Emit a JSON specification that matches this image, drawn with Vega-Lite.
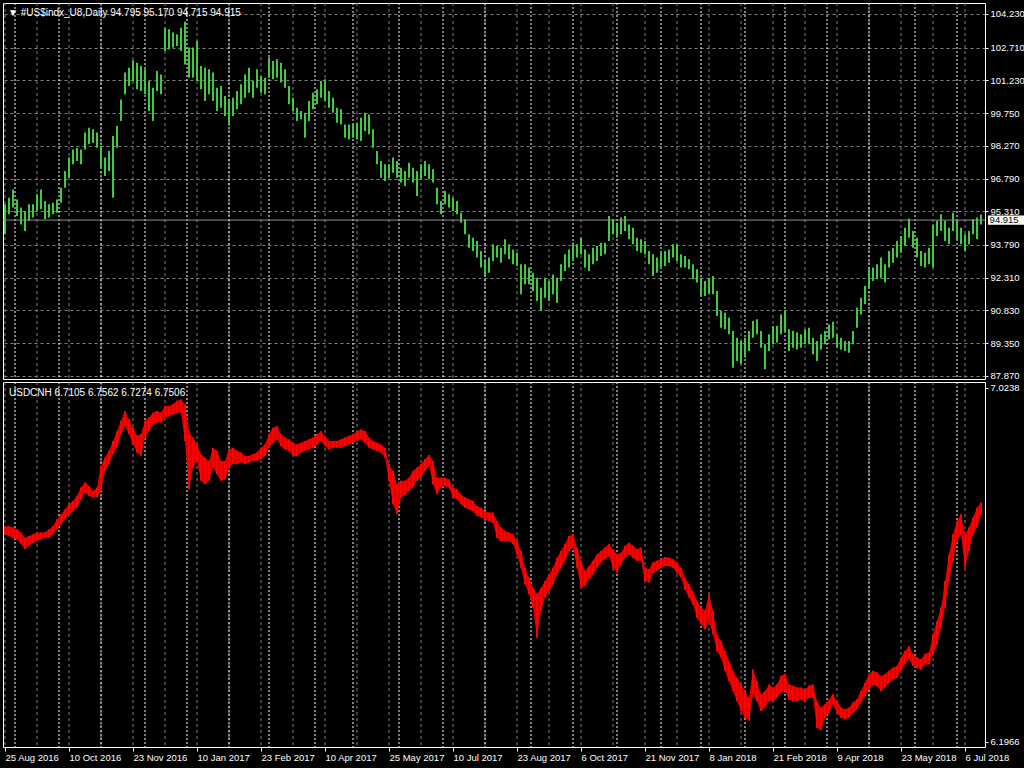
{
"$schema":"https://vega.github.io/schema/vega-lite/v6.json",
"background":"#000000",
"padding":{"left":2,"top":2,"right":0,"bottom":6},
"autosize":{"type":"pad"},
"bounds":"flush",
"spacing":3,
"config":{"view":{"stroke":"#ffffff","strokeWidth":1,"fill":"#000000"},"font":"Liberation Sans","axis":{"labelFont":"Liberation Sans","labelFontSize":9.5,"labelColor":"#ffffff","tickColor":"#ffffff","domain":false,"labelOverlap":false,"labelBound":false,"labelFlush":false}},
"datasets":{
"grid":[{"n":0},{"n":16},{"n":32},{"n":48},{"n":64},{"n":80},{"n":96},{"n":112},{"n":128},{"n":144},{"n":160},{"n":176},{"n":192},{"n":208},{"n":224},{"n":240},{"n":256},{"n":272},{"n":288},{"n":304},{"n":320},{"n":336},{"n":352},{"n":368},{"n":384},{"n":400},{"n":416},{"n":432},{"n":448},{"n":464},{"n":480}],
"sep":[{"n":5},{"n":27},{"n":48},{"n":70},{"n":91},{"n":112},{"n":132},{"n":155},{"n":174},{"n":197},{"n":219},{"n":240},{"n":263},{"n":284},{"n":306},{"n":328},{"n":348},{"n":370},{"n":390},{"n":411},{"n":432},{"n":455},{"n":476}],
"bars":[
{"n":0,"dh":95.63,"dl":94.27,"ch":6.701,"cl":6.682},
{"n":2,"dh":95.93,"dl":95.18,"ch":6.701,"cl":6.678},
{"n":4,"dh":96.30,"dl":95.48,"ch":6.698,"cl":6.674},
{"n":6,"dh":95.85,"dl":95.10,"ch":6.694,"cl":6.670},
{"n":8,"dh":95.48,"dl":94.72,"ch":6.686,"cl":6.659},
{"n":10,"dh":95.33,"dl":94.42,"ch":6.674,"cl":6.647},
{"n":12,"dh":95.63,"dl":94.88,"ch":6.678,"cl":6.655},
{"n":14,"dh":95.63,"dl":95.03,"ch":6.682,"cl":6.662},
{"n":16,"dh":96.08,"dl":95.33,"ch":6.686,"cl":6.666},
{"n":18,"dh":96.30,"dl":95.40,"ch":6.686,"cl":6.670},
{"n":20,"dh":95.78,"dl":94.95,"ch":6.686,"cl":6.674},
{"n":22,"dh":95.63,"dl":95.03,"ch":6.694,"cl":6.674},
{"n":24,"dh":95.70,"dl":95.18,"ch":6.701,"cl":6.682},
{"n":26,"dh":95.85,"dl":95.25,"ch":6.717,"cl":6.694},
{"n":28,"dh":96.38,"dl":95.70,"ch":6.729,"cl":6.705},
{"n":30,"dh":97.13,"dl":96.38,"ch":6.740,"cl":6.717},
{"n":32,"dh":97.74,"dl":96.83,"ch":6.752,"cl":6.729},
{"n":34,"dh":98.11,"dl":97.44,"ch":6.760,"cl":6.736},
{"n":36,"dh":98.19,"dl":97.59,"ch":6.772,"cl":6.744},
{"n":38,"dh":98.11,"dl":97.44,"ch":6.791,"cl":6.764},
{"n":40,"dh":98.87,"dl":98.11,"ch":6.803,"cl":6.779},
{"n":42,"dh":99.09,"dl":98.34,"ch":6.795,"cl":6.772},
{"n":44,"dh":99.02,"dl":98.41,"ch":6.783,"cl":6.768},
{"n":46,"dh":98.87,"dl":98.19,"ch":6.791,"cl":6.768},
{"n":48,"dh":98.26,"dl":97.28,"ch":6.842,"cl":6.783},
{"n":50,"dh":97.74,"dl":96.91,"ch":6.861,"cl":6.830},
{"n":52,"dh":98.04,"dl":97.13,"ch":6.877,"cl":6.846},
{"n":54,"dh":98.72,"dl":95.93,"ch":6.900,"cl":6.869},
{"n":56,"dh":99.17,"dl":98.19,"ch":6.923,"cl":6.884},
{"n":58,"dh":100.37,"dl":99.39,"ch":6.947,"cl":6.916},
{"n":60,"dh":101.58,"dl":100.60,"ch":6.970,"cl":6.935},
{"n":62,"dh":101.80,"dl":100.98,"ch":6.951,"cl":6.916},
{"n":64,"dh":102.14,"dl":101.20,"ch":6.931,"cl":6.892},
{"n":66,"dh":102.03,"dl":100.83,"ch":6.912,"cl":6.873},
{"n":68,"dh":101.88,"dl":100.75,"ch":6.916,"cl":6.865},
{"n":70,"dh":101.73,"dl":100.60,"ch":6.947,"cl":6.908},
{"n":72,"dh":101.20,"dl":99.85,"ch":6.955,"cl":6.923},
{"n":74,"dh":100.90,"dl":99.39,"ch":6.966,"cl":6.939},
{"n":76,"dh":101.65,"dl":100.75,"ch":6.970,"cl":6.943},
{"n":78,"dh":101.50,"dl":100.60,"ch":6.966,"cl":6.943},
{"n":80,"dh":103.61,"dl":102.56,"ch":6.982,"cl":6.955},
{"n":82,"dh":103.54,"dl":102.63,"ch":6.982,"cl":6.958},
{"n":84,"dh":103.39,"dl":102.71,"ch":6.986,"cl":6.962},
{"n":86,"dh":103.31,"dl":102.78,"ch":6.994,"cl":6.966},
{"n":88,"dh":103.61,"dl":102.56,"ch":6.997,"cl":6.966},
{"n":90,"dh":103.88,"dl":101.95,"ch":6.986,"cl":6.900},
{"n":92,"dh":102.71,"dl":101.35,"ch":6.923,"cl":6.787},
{"n":94,"dh":102.71,"dl":101.35,"ch":6.908,"cl":6.838},
{"n":96,"dh":103.01,"dl":101.20,"ch":6.892,"cl":6.853},
{"n":98,"dh":101.88,"dl":100.83,"ch":6.869,"cl":6.807},
{"n":100,"dh":101.80,"dl":100.30,"ch":6.861,"cl":6.799},
{"n":102,"dh":101.73,"dl":100.60,"ch":6.853,"cl":6.807},
{"n":104,"dh":101.58,"dl":100.30,"ch":6.884,"cl":6.838},
{"n":106,"dh":100.90,"dl":99.85,"ch":6.877,"cl":6.822},
{"n":108,"dh":100.98,"dl":99.99,"ch":6.853,"cl":6.807},
{"n":110,"dh":100.52,"dl":99.62,"ch":6.853,"cl":6.811},
{"n":112,"dh":100.30,"dl":99.24,"ch":6.880,"cl":6.838},
{"n":114,"dh":100.45,"dl":99.62,"ch":6.884,"cl":6.846},
{"n":116,"dh":100.75,"dl":99.92,"ch":6.877,"cl":6.846},
{"n":118,"dh":101.05,"dl":100.15,"ch":6.873,"cl":6.850},
{"n":120,"dh":101.50,"dl":100.45,"ch":6.865,"cl":6.846},
{"n":122,"dh":101.80,"dl":100.67,"ch":6.865,"cl":6.850},
{"n":124,"dh":101.20,"dl":100.45,"ch":6.869,"cl":6.853},
{"n":126,"dh":101.73,"dl":100.90,"ch":6.873,"cl":6.853},
{"n":128,"dh":101.43,"dl":100.67,"ch":6.884,"cl":6.857},
{"n":130,"dh":101.35,"dl":100.60,"ch":6.892,"cl":6.865},
{"n":132,"dh":102.26,"dl":101.35,"ch":6.916,"cl":6.884},
{"n":134,"dh":102.11,"dl":101.28,"ch":6.931,"cl":6.896},
{"n":136,"dh":102.18,"dl":101.35,"ch":6.935,"cl":6.904},
{"n":138,"dh":102.03,"dl":101.13,"ch":6.916,"cl":6.888},
{"n":140,"dh":101.73,"dl":100.90,"ch":6.908,"cl":6.880},
{"n":142,"dh":100.98,"dl":100.15,"ch":6.904,"cl":6.877},
{"n":144,"dh":100.45,"dl":99.85,"ch":6.896,"cl":6.865},
{"n":146,"dh":99.99,"dl":99.39,"ch":6.892,"cl":6.865},
{"n":148,"dh":99.85,"dl":99.47,"ch":6.896,"cl":6.873},
{"n":150,"dh":99.77,"dl":98.64,"ch":6.900,"cl":6.877},
{"n":152,"dh":100.30,"dl":99.39,"ch":6.904,"cl":6.880},
{"n":154,"dh":100.67,"dl":99.92,"ch":6.908,"cl":6.884},
{"n":156,"dh":100.83,"dl":100.15,"ch":6.916,"cl":6.892},
{"n":158,"dh":101.20,"dl":100.45,"ch":6.923,"cl":6.900},
{"n":160,"dh":101.28,"dl":100.30,"ch":6.912,"cl":6.888},
{"n":162,"dh":100.75,"dl":99.99,"ch":6.900,"cl":6.880},
{"n":164,"dh":100.45,"dl":99.77,"ch":6.900,"cl":6.884},
{"n":166,"dh":99.99,"dl":99.32,"ch":6.900,"cl":6.884},
{"n":168,"dh":99.92,"dl":99.24,"ch":6.904,"cl":6.884},
{"n":170,"dh":99.24,"dl":98.64,"ch":6.908,"cl":6.888},
{"n":172,"dh":99.24,"dl":98.56,"ch":6.912,"cl":6.892},
{"n":174,"dh":99.24,"dl":98.64,"ch":6.916,"cl":6.896},
{"n":176,"dh":99.32,"dl":98.56,"ch":6.923,"cl":6.900},
{"n":178,"dh":99.54,"dl":98.49,"ch":6.927,"cl":6.904},
{"n":180,"dh":99.77,"dl":98.94,"ch":6.923,"cl":6.896},
{"n":182,"dh":99.69,"dl":98.79,"ch":6.908,"cl":6.884},
{"n":184,"dh":99.02,"dl":98.19,"ch":6.900,"cl":6.880},
{"n":186,"dh":98.04,"dl":97.44,"ch":6.896,"cl":6.877},
{"n":188,"dh":97.59,"dl":96.83,"ch":6.892,"cl":6.873},
{"n":190,"dh":97.44,"dl":96.68,"ch":6.884,"cl":6.861},
{"n":192,"dh":97.44,"dl":96.83,"ch":6.846,"cl":6.807},
{"n":194,"dh":97.74,"dl":97.06,"ch":6.830,"cl":6.752},
{"n":196,"dh":97.59,"dl":96.83,"ch":6.799,"cl":6.729},
{"n":198,"dh":97.28,"dl":96.61,"ch":6.807,"cl":6.768},
{"n":200,"dh":97.13,"dl":96.46,"ch":6.807,"cl":6.775},
{"n":202,"dh":97.51,"dl":96.83,"ch":6.814,"cl":6.783},
{"n":204,"dh":97.28,"dl":96.61,"ch":6.830,"cl":6.791},
{"n":206,"dh":97.13,"dl":96.00,"ch":6.838,"cl":6.807},
{"n":208,"dh":97.44,"dl":96.76,"ch":6.846,"cl":6.814},
{"n":210,"dh":97.59,"dl":96.91,"ch":6.857,"cl":6.830},
{"n":212,"dh":97.44,"dl":96.76,"ch":6.867,"cl":6.842},
{"n":214,"dh":97.21,"dl":96.61,"ch":6.853,"cl":6.799},
{"n":216,"dh":96.38,"dl":95.63,"ch":6.814,"cl":6.775},
{"n":218,"dh":95.78,"dl":95.18,"ch":6.814,"cl":6.791},
{"n":220,"dh":96.23,"dl":95.63,"ch":6.814,"cl":6.795},
{"n":222,"dh":96.08,"dl":95.48,"ch":6.810,"cl":6.791},
{"n":224,"dh":95.93,"dl":95.33,"ch":6.791,"cl":6.768},
{"n":226,"dh":95.78,"dl":95.18,"ch":6.787,"cl":6.764},
{"n":228,"dh":95.25,"dl":94.80,"ch":6.775,"cl":6.752},
{"n":230,"dh":94.95,"dl":94.27,"ch":6.768,"cl":6.744},
{"n":232,"dh":94.27,"dl":93.67,"ch":6.764,"cl":6.740},
{"n":234,"dh":94.12,"dl":93.52,"ch":6.760,"cl":6.736},
{"n":236,"dh":93.97,"dl":93.22,"ch":6.748,"cl":6.725},
{"n":238,"dh":93.52,"dl":92.77,"ch":6.744,"cl":6.721},
{"n":240,"dh":93.07,"dl":92.39,"ch":6.736,"cl":6.717},
{"n":242,"dh":93.22,"dl":92.54,"ch":6.733,"cl":6.713},
{"n":244,"dh":93.82,"dl":93.07,"ch":6.733,"cl":6.709},
{"n":246,"dh":93.74,"dl":93.22,"ch":6.713,"cl":6.674},
{"n":248,"dh":93.67,"dl":92.99,"ch":6.698,"cl":6.666},
{"n":250,"dh":94.05,"dl":93.37,"ch":6.690,"cl":6.666},
{"n":252,"dh":93.82,"dl":93.14,"ch":6.686,"cl":6.666},
{"n":254,"dh":93.59,"dl":92.92,"ch":6.682,"cl":6.659},
{"n":256,"dh":93.44,"dl":92.84,"ch":6.666,"cl":6.635},
{"n":258,"dh":92.92,"dl":91.56,"ch":6.643,"cl":6.604},
{"n":260,"dh":92.92,"dl":92.01,"ch":6.604,"cl":6.565},
{"n":262,"dh":92.77,"dl":92.01,"ch":6.581,"cl":6.542},
{"n":264,"dh":92.54,"dl":91.71,"ch":6.557,"cl":6.511},
{"n":266,"dh":92.31,"dl":91.26,"ch":6.542,"cl":6.440},
{"n":268,"dh":91.86,"dl":90.81,"ch":6.557,"cl":6.503},
{"n":270,"dh":92.31,"dl":91.41,"ch":6.573,"cl":6.534},
{"n":272,"dh":92.16,"dl":91.26,"ch":6.588,"cl":6.549},
{"n":274,"dh":92.46,"dl":91.56,"ch":6.604,"cl":6.565},
{"n":276,"dh":92.31,"dl":91.18,"ch":6.627,"cl":6.588},
{"n":278,"dh":92.92,"dl":92.16,"ch":6.643,"cl":6.604},
{"n":280,"dh":93.37,"dl":92.61,"ch":6.659,"cl":6.620},
{"n":282,"dh":93.59,"dl":92.77,"ch":6.678,"cl":6.643},
{"n":284,"dh":93.89,"dl":93.07,"ch":6.682,"cl":6.651},
{"n":286,"dh":93.82,"dl":93.22,"ch":6.651,"cl":6.604},
{"n":288,"dh":94.12,"dl":93.37,"ch":6.620,"cl":6.557},
{"n":290,"dh":93.59,"dl":92.77,"ch":6.596,"cl":6.561},
{"n":292,"dh":93.37,"dl":92.61,"ch":6.608,"cl":6.577},
{"n":294,"dh":93.67,"dl":92.92,"ch":6.620,"cl":6.588},
{"n":296,"dh":93.74,"dl":93.07,"ch":6.635,"cl":6.604},
{"n":298,"dh":93.89,"dl":93.29,"ch":6.643,"cl":6.616},
{"n":300,"dh":93.89,"dl":93.37,"ch":6.651,"cl":6.624},
{"n":302,"dh":95.10,"dl":93.97,"ch":6.659,"cl":6.631},
{"n":304,"dh":94.95,"dl":94.27,"ch":6.647,"cl":6.604},
{"n":306,"dh":94.80,"dl":94.12,"ch":6.635,"cl":6.592},
{"n":308,"dh":95.03,"dl":94.27,"ch":6.639,"cl":6.612},
{"n":310,"dh":95.10,"dl":94.42,"ch":6.655,"cl":6.627},
{"n":312,"dh":94.72,"dl":94.05,"ch":6.662,"cl":6.635},
{"n":314,"dh":94.57,"dl":93.82,"ch":6.655,"cl":6.627},
{"n":316,"dh":94.12,"dl":93.52,"ch":6.647,"cl":6.620},
{"n":318,"dh":94.05,"dl":93.44,"ch":6.651,"cl":6.620},
{"n":320,"dh":93.97,"dl":93.37,"ch":6.604,"cl":6.573},
{"n":322,"dh":93.52,"dl":92.92,"ch":6.600,"cl":6.569},
{"n":324,"dh":93.37,"dl":92.39,"ch":6.616,"cl":6.592},
{"n":326,"dh":93.22,"dl":92.54,"ch":6.620,"cl":6.596},
{"n":328,"dh":93.44,"dl":92.77,"ch":6.624,"cl":6.604},
{"n":330,"dh":93.52,"dl":92.84,"ch":6.629,"cl":6.608},
{"n":332,"dh":93.59,"dl":92.99,"ch":6.627,"cl":6.608},
{"n":334,"dh":93.82,"dl":93.22,"ch":6.624,"cl":6.604},
{"n":336,"dh":93.82,"dl":93.07,"ch":6.616,"cl":6.592},
{"n":338,"dh":93.37,"dl":92.77,"ch":6.604,"cl":6.581},
{"n":340,"dh":93.29,"dl":92.77,"ch":6.581,"cl":6.553},
{"n":342,"dh":93.14,"dl":92.69,"ch":6.565,"cl":6.534},
{"n":344,"dh":92.92,"dl":92.24,"ch":6.549,"cl":6.518},
{"n":346,"dh":92.69,"dl":92.09,"ch":6.526,"cl":6.487},
{"n":348,"dh":92.31,"dl":91.48,"ch":6.511,"cl":6.472},
{"n":350,"dh":92.16,"dl":91.48,"ch":6.503,"cl":6.460},
{"n":352,"dh":92.31,"dl":91.56,"ch":6.542,"cl":6.479},
{"n":354,"dh":92.39,"dl":91.56,"ch":6.503,"cl":6.448},
{"n":356,"dh":91.71,"dl":90.58,"ch":6.448,"cl":6.409},
{"n":358,"dh":90.81,"dl":90.05,"ch":6.433,"cl":6.394},
{"n":360,"dh":90.73,"dl":89.98,"ch":6.409,"cl":6.363},
{"n":362,"dh":90.50,"dl":89.75,"ch":6.386,"cl":6.339},
{"n":364,"dh":89.90,"dl":88.24,"ch":6.363,"cl":6.316},
{"n":366,"dh":89.60,"dl":88.55,"ch":6.347,"cl":6.292},
{"n":368,"dh":89.45,"dl":88.40,"ch":6.331,"cl":6.269},
{"n":370,"dh":89.60,"dl":88.70,"ch":6.316,"cl":6.253},
{"n":372,"dh":89.90,"dl":89.00,"ch":6.300,"cl":6.246},
{"n":374,"dh":90.35,"dl":89.60,"ch":6.366,"cl":6.308},
{"n":376,"dh":90.43,"dl":89.75,"ch":6.339,"cl":6.292},
{"n":378,"dh":89.90,"dl":89.15,"ch":6.308,"cl":6.269},
{"n":380,"dh":89.30,"dl":88.17,"ch":6.316,"cl":6.277},
{"n":382,"dh":89.75,"dl":89.00,"ch":6.331,"cl":6.292},
{"n":384,"dh":90.13,"dl":89.30,"ch":6.324,"cl":6.292},
{"n":386,"dh":90.13,"dl":89.38,"ch":6.331,"cl":6.300},
{"n":388,"dh":90.65,"dl":89.75,"ch":6.351,"cl":6.312},
{"n":390,"dh":90.84,"dl":89.90,"ch":6.356,"cl":6.316},
{"n":392,"dh":89.98,"dl":89.00,"ch":6.331,"cl":6.296},
{"n":394,"dh":89.90,"dl":89.15,"ch":6.328,"cl":6.292},
{"n":396,"dh":89.83,"dl":89.07,"ch":6.324,"cl":6.292},
{"n":398,"dh":89.75,"dl":89.15,"ch":6.324,"cl":6.296},
{"n":400,"dh":89.98,"dl":89.30,"ch":6.320,"cl":6.292},
{"n":402,"dh":90.05,"dl":89.30,"ch":6.328,"cl":6.300},
{"n":404,"dh":89.60,"dl":88.85,"ch":6.331,"cl":6.300},
{"n":406,"dh":89.45,"dl":88.55,"ch":6.292,"cl":6.230},
{"n":408,"dh":89.75,"dl":89.07,"ch":6.277,"cl":6.224},
{"n":410,"dh":89.90,"dl":89.30,"ch":6.285,"cl":6.253},
{"n":412,"dh":90.20,"dl":89.52,"ch":6.296,"cl":6.265},
{"n":414,"dh":90.32,"dl":89.60,"ch":6.308,"cl":6.285},
{"n":416,"dh":89.75,"dl":89.15,"ch":6.292,"cl":6.265},
{"n":418,"dh":89.60,"dl":89.07,"ch":6.277,"cl":6.253},
{"n":420,"dh":89.45,"dl":89.00,"ch":6.273,"cl":6.250},
{"n":422,"dh":89.45,"dl":88.92,"ch":6.277,"cl":6.253},
{"n":424,"dh":89.90,"dl":89.30,"ch":6.289,"cl":6.265},
{"n":426,"dh":90.96,"dl":90.05,"ch":6.296,"cl":6.273},
{"n":428,"dh":91.41,"dl":90.65,"ch":6.316,"cl":6.289},
{"n":430,"dh":91.94,"dl":91.11,"ch":6.335,"cl":6.304},
{"n":432,"dh":92.69,"dl":91.86,"ch":6.355,"cl":6.320},
{"n":434,"dh":92.77,"dl":92.16,"ch":6.363,"cl":6.331},
{"n":436,"dh":92.92,"dl":92.24,"ch":6.359,"cl":6.327},
{"n":438,"dh":93.22,"dl":92.31,"ch":6.351,"cl":6.316},
{"n":440,"dh":92.92,"dl":92.09,"ch":6.355,"cl":6.324},
{"n":442,"dh":93.52,"dl":92.77,"ch":6.363,"cl":6.335},
{"n":444,"dh":93.67,"dl":92.99,"ch":6.370,"cl":6.343},
{"n":446,"dh":93.97,"dl":93.22,"ch":6.374,"cl":6.347},
{"n":448,"dh":94.20,"dl":93.44,"ch":6.394,"cl":6.363},
{"n":450,"dh":94.57,"dl":93.74,"ch":6.409,"cl":6.378},
{"n":452,"dh":94.99,"dl":94.12,"ch":6.421,"cl":6.390},
{"n":454,"dh":94.42,"dl":93.67,"ch":6.402,"cl":6.374},
{"n":456,"dh":94.12,"dl":93.22,"ch":6.394,"cl":6.370},
{"n":458,"dh":93.52,"dl":92.84,"ch":6.390,"cl":6.366},
{"n":460,"dh":93.44,"dl":92.77,"ch":6.402,"cl":6.378},
{"n":462,"dh":93.67,"dl":92.92,"ch":6.405,"cl":6.378},
{"n":464,"dh":94.72,"dl":92.77,"ch":6.448,"cl":6.401},
{"n":466,"dh":94.88,"dl":94.20,"ch":6.479,"cl":6.425},
{"n":468,"dh":95.18,"dl":94.42,"ch":6.511,"cl":6.464},
{"n":470,"dh":94.88,"dl":93.97,"ch":6.573,"cl":6.511},
{"n":472,"dh":94.57,"dl":93.82,"ch":6.635,"cl":6.573},
{"n":474,"dh":95.25,"dl":94.42,"ch":6.682,"cl":6.620},
{"n":476,"dh":94.88,"dl":94.05,"ch":6.713,"cl":6.666},
{"n":478,"dh":94.57,"dl":93.82,"ch":6.729,"cl":6.682},
{"n":480,"dh":94.27,"dl":93.52,"ch":6.682,"cl":6.604},
{"n":482,"dh":94.42,"dl":93.82,"ch":6.698,"cl":6.643},
{"n":484,"dh":94.95,"dl":94.27,"ch":6.721,"cl":6.682},
{"n":486,"dh":95.03,"dl":94.05,"ch":6.744,"cl":6.698},
{"n":488,"dh":95.17,"dl":94.72,"ch":6.756,"cl":6.727}
]},
"vconcat":[
{
"width":982,"height":376,
"title":{"text":"▼ #US$indx_U8,Daily  94.795 95.170 94.715 94.915","anchor":"start","frame":"group","orient":"top","offset":-5,"baseline":"top","dx":5,"dy":10,"color":"#ffffff","font":"Liberation Sans","fontSize":10,"fontWeight":"normal"},
"layer":[
{"data":{"name":"grid"},"mark":{"type":"rule","color":"#808080","strokeDash":[3,3],"strokeWidth":1},"encoding":{"x":{"field":"n","type":"quantitative","scale":{"domain":[-1,490],"nice":false,"zero":false},"axis":null}}},
{"data":{"name":"sep"},"mark":{"type":"rule","color":"#ffffff","strokeDash":[2,2],"strokeWidth":1},"encoding":{"x":{"field":"n","type":"quantitative","axis":null}}},
{"data":{"name":"bars"},"mark":{"type":"rule","color":"#3dcc3d","strokeWidth":2},"encoding":{"x":{"field":"n","type":"quantitative","axis":null},"y":{"field":"dl","type":"quantitative","title":null,"scale":{"domain":[87.732,104.727],"nice":false,"zero":false},"axis":{"orient":"right","title":null,"values":[104.23,102.71,101.23,99.75,98.27,96.79,95.31,93.79,92.31,90.83,89.35,87.87],"tickCount":40,"format":".3f","grid":true,"gridColor":"#808080","gridDash":[3,3],"tickSize":3,"labelPadding":2,"labelOverlap":false,"labelFontSize":9.5}},"y2":{"field":"dh"}}},
{"data":{"values":[{"bid":94.915}]},"layer":[
{"mark":{"type":"rule","color":"#909090","strokeWidth":1},"encoding":{"y":{"field":"bid","type":"quantitative","title":null}}},
{"mark":{"type":"rect","fill":"#ffffff"},"encoding":{"x":{"datum":491.5,"type":"quantitative","axis":null},"x2":{"datum":509.5},"y":{"datum":95.12,"type":"quantitative","title":null},"y2":{"datum":94.70}}},
{"mark":{"type":"text","color":"#000000","align":"left","baseline":"middle","font":"Liberation Sans","fontSize":9.5},"encoding":{"x":{"datum":492.3,"type":"quantitative","axis":null},"y":{"field":"bid","type":"quantitative","title":null},"text":{"field":"bid","type":"quantitative","format":".3f"}}}
]}
]
},
{
"width":982,"height":365,
"title":{"text":"USDCNH 6.7105 6.7562 6.7274 6.7506","anchor":"start","frame":"group","orient":"top","offset":-4,"baseline":"top","dx":6,"dy":12,"color":"#ffffff","font":"Liberation Sans","fontSize":10,"fontWeight":"normal"},
"layer":[
{"data":{"name":"grid"},"mark":{"type":"rule","color":"#808080","strokeDash":[3,3],"strokeWidth":1},"encoding":{"x":{"field":"n","type":"quantitative","title":null}}},
{"data":{"name":"sep"},"mark":{"type":"rule","color":"#ffffff","strokeDash":[2,2],"strokeWidth":1},"encoding":{"x":{"field":"n","type":"quantitative","title":null}}},
{"data":{"name":"bars"},"mark":{"type":"area","color":"#e00000","opacity":1},"encoding":{"x":{"field":"n","type":"quantitative","title":null},"y":{"field":"cl","type":"quantitative","title":null},"y2":{"field":"ch"}}},
{"data":{"name":"bars"},"mark":{"type":"rule","color":"#ff0000","strokeWidth":2},"encoding":{"x":{"field":"n","type":"quantitative","title":null,"scale":{"domain":[-1,490],"nice":false,"zero":false},"axis":{"title":null,"values":[0,32,64,96,128,160,192,224,256,288,320,352,384,416,448,480],"tickCount":40,"labelExpr":"['25 Aug 2016','10 Oct 2016','23 Nov 2016','10 Jan 2017','23 Feb 2017','10 Apr 2017','25 May 2017','10 Jul 2017','23 Aug 2017','6 Oct 2017','21 Nov 2017','8 Jan 2018','21 Feb 2018','9 Apr 2018','23 May 2018','6 Jul 2018'][round(datum.value/32)]","grid":false,"tickSize":4,"labelAlign":"left","labelBaseline":"top","labelPadding":1,"labelOverlap":false,"labelFontSize":9.5}},"y":{"field":"cl","type":"quantitative","title":null,"scale":{"domain":[6.1849,7.0378],"nice":false,"zero":false},"axis":{"orient":"right","title":null,"values":[7.0238,6.1966],"format":".4f","grid":false,"tickSize":3,"labelPadding":2,"labelOverlap":false,"labelFontSize":9.5}},"y2":{"field":"ch"}}}
]
}
]
}
